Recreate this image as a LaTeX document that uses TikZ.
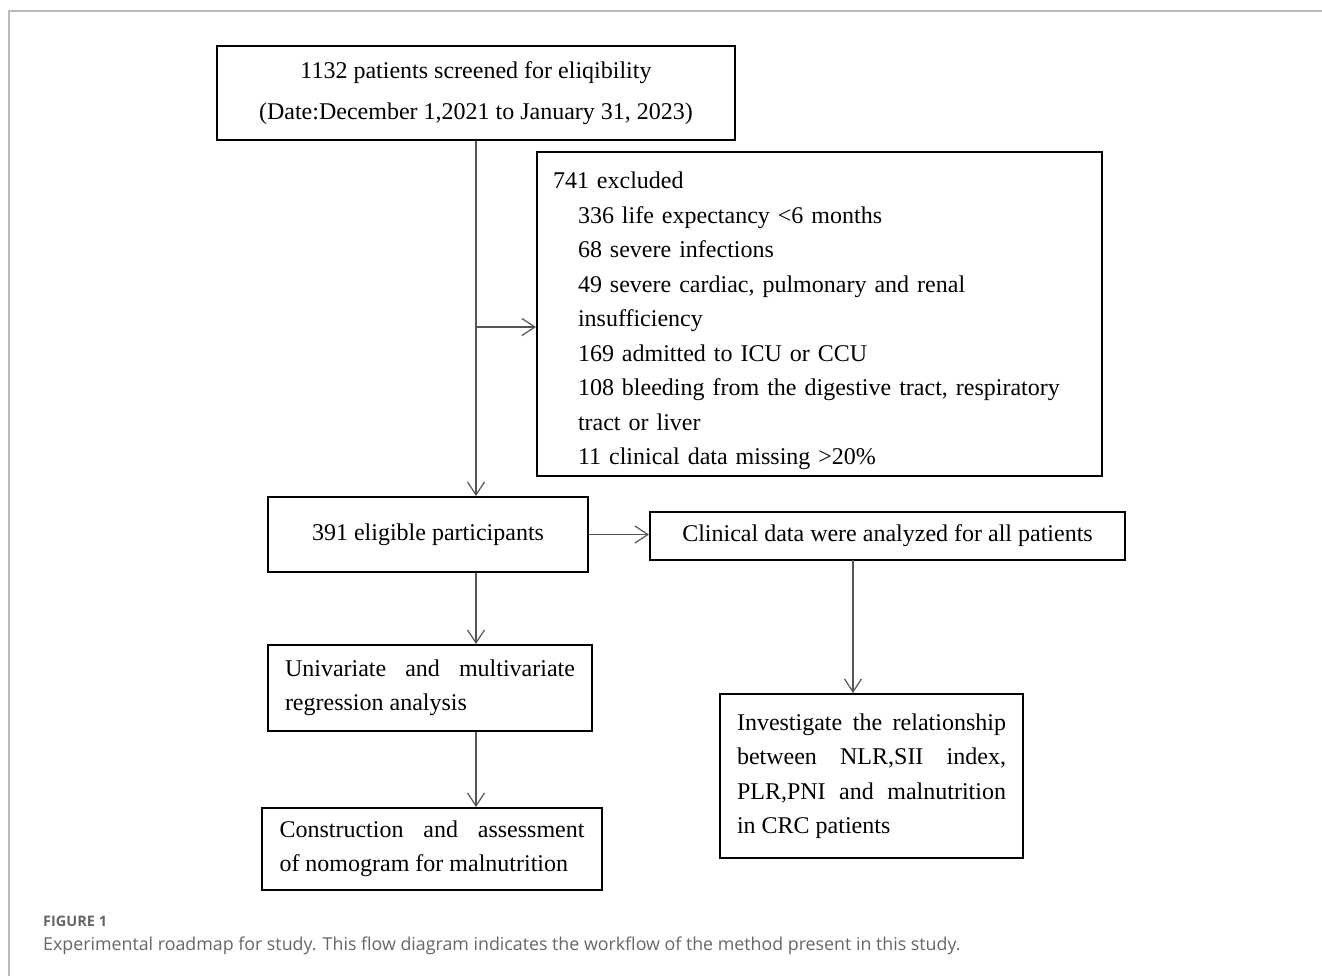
\documentclass[tikz,border=0pt]{standalone}
\usepackage{fontspec}
\setmainfont{Liberation Serif}
\newfontfamily\capfont{Open Sans}
\usetikzlibrary{calc,positioning,arrows.meta}
\definecolor{framegray}{HTML}{BBBBBB}
\definecolor{linkgray}{HTML}{555555}
\definecolor{capgray}{HTML}{666666}
\newcommand{\topgap}[1]{\rule{0pt}{#1}}

\begin{document}
\begin{tikzpicture}[x=1pt, y=-1pt,
  box/.style={draw=black, line width=2pt, inner sep=0pt, align=center,
    font=\fontsize{24}{34.5}\selectfont},
  link/.style={draw=linkgray, line width=1.2pt, -{Straight Barb[length=13pt,width=17pt,line width=1.2pt]}}]
\useasboundingbox (0,0) rectangle (1322,976);
\draw[framegray, line width=2pt] (9,976) -- (9,11) -- (1322,11);

\node[box, minimum width=518, minimum height=94] (screen) at (476,93)
  {1132 patients screened for eliqibility\\[6pt](Date:December 1,2021 to January 31, 2023)};
\node[box, minimum width=565, minimum height=324, text width=533, align=left] (excl) at (819.5,314)
  {\topgap{31pt}741 excluded\\
   \hspace*{25pt}336 life expectancy <6 months\\
   \hspace*{25pt}68 severe infections\\
   \hspace*{25pt}49 severe cardiac, pulmonary and renal\\
   \hspace*{25pt}insufficiency\\
   \hspace*{25pt}169 admitted to ICU or CCU\\
   \hspace*{25pt}108 bleeding from the digestive tract, respiratory\\
   \hspace*{25pt}tract or liver\\
   \hspace*{25pt}11 clinical data missing >20\%};
\node[box, minimum width=320, minimum height=75] (elig) at (428,534.5) {391 eligible participants};
\node[box, minimum width=475, minimum height=48] (clin) at (887.5,536) {Clinical data were analyzed for all patients};
\node[box, minimum width=324, minimum height=86, align=left] (regr) at (430,688)
  {\makebox[290pt][s]{Univariate and multivariate}\\regression analysis};
\node[box, minimum width=303, minimum height=164, align=left] (relat) at (871.5,776)
  {\makebox[269pt][s]{Investigate the relationship}\\
   \makebox[269pt][s]{between NLR,SII index,}\\
   \makebox[269pt][s]{PLR,PNI and malnutrition}\\
   in CRC patients};
\node[box, minimum width=340, minimum height=82, align=left] (nomo) at (432,849)
  {\makebox[305pt][s]{Construction and assessment}\\of nomogram for malnutrition};

% connectors
\coordinate (split) at (476,327);
\coordinate (clinout) at (853,560);
\draw[link] (screen.south) -- (screen.south |- elig.north);
\draw[link] (split) -- (split -| excl.west);
\draw[link] (elig.east) -- (elig.east -| clin.west);
\draw[link] (clinout) -- (clinout |- relat.north);
\draw[link] (screen.south |- elig.south) -- (screen.south |- regr.north);
\draw[link] (screen.south |- regr.south) -- (screen.south |- nomo.north);

% caption
\node[anchor=west, inner sep=0pt, text=capgray, font=\capfont\fontsize{14.5}{16}\selectfont\bfseries] (fig) at (43,921) {FIGURE 1};
\node[anchor=west, inner sep=0pt, text=capgray, font=\capfont\fontsize{17.8}{20}\selectfont] (cap) at (43,946)
  {Experimental roadmap for study. This flow diagram indicates the workflow of the method present in this study.};
\end{tikzpicture}
\end{document}
